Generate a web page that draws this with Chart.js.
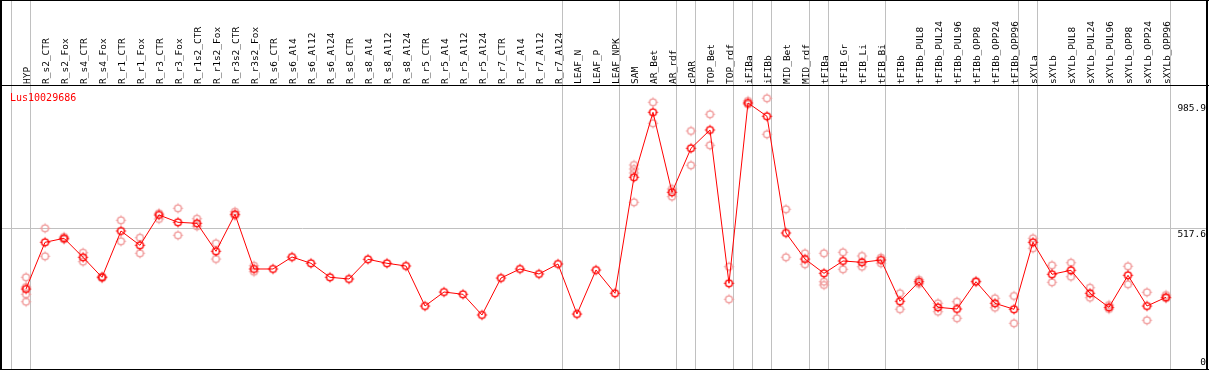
<!DOCTYPE html>
<html>
<head>
<meta charset="utf-8">
<script src="https://cdn.jsdelivr.net/npm/chart.js@4.4.1/dist/chart.umd.min.js"></script>
<style>
  html, body { margin: 0; padding: 0; background: #fff; }
  #wrap { width: 1209px; height: 370px; }
</style>
</head>
<body>
<div id="wrap"><canvas id="chart" width="1209" height="370"></canvas></div>
<script>
const geneId = "Lus10029686";

const categories = [
  "HYP", "R_s2_CTR", "R_s2_Fox", "R_s4_CTR", "R_s4_Fox", "R_r1_CTR", "R_r1_Fox",
  "R_r3_CTR", "R_r3_Fox", "R_r1s2_CTR", "R_r1s2_Fox", "R_r3s2_CTR", "R_r3s2_Fox",
  "R_s6_CTR", "R_s6_Al4", "R_s6_Al12", "R_s6_Al24", "R_s8_CTR", "R_s8_Al4",
  "R_s8_Al12", "R_s8_Al24", "R_r5_CTR", "R_r5_Al4", "R_r5_Al12", "R_r5_Al24",
  "R_r7_CTR", "R_r7_Al4", "R_r7_Al12", "R_r7_Al24", "LEAF_N", "LEAF_P", "LEAF_NPK",
  "SAM", "AR_Bet", "AR_rdf", "cPAR", "TOP_Bet", "TOP_rdf", "iFIBa", "iFIBb",
  "MID_Bet", "MID_rdf", "tFIBa", "tFIB_Gr", "tFIB_Li", "tFIB_Bi", "tFIBb",
  "tFIBb_PUL8", "tFIBb_PUL24", "tFIBb_PUL96", "tFIBb_OPP8", "tFIBb_OPP24", "tFIBb_OPP96",
  "sXYLa", "sXYLb", "sXYLb_PUL8", "sXYLb_PUL24", "sXYLb_PUL96", "sXYLb_OPP8",
  "sXYLb_OPP24", "sXYLb_OPP96"
];

const meanValues = [
  290.7, 465.2, 480.2, 409.2, 334.5, 507.5, 454.0, 567.3, 540.0, 536.2, 431.6, 569.9, 365.5,
  365.5, 410.3, 386.8, 334.5, 328.1, 401.7, 386.8, 376.7, 227.2, 279.5, 270.9, 193.6,
  331.8, 365.5, 346.8, 384.2, 197.3, 361.7, 274.7,
  708.2, 951.0, 652.1, 816.5, 884.9, 312.0, 985.9, 936.1, 500.0, 402.8,
  349.4, 395.4, 390.5, 399.1, 244.8, 318.0, 222.3, 216.0, 318.0, 237.3, 214.9,
  465.2, 345.7, 360.6, 274.7, 222.3, 341.9, 227.2, 259.7
];

// individual replicates, one list per category (empty where only the mean is shown)
const replicateValues = [
  [334.5, 298.2, 270.9, 243.3], [517.6, 412.9], [485.1, 475.7], [426.4, 392.8], [337.4, 331.8],
  [547.5, 469.0], [482.4, 424.1], [573.6, 552.3], [592.3, 491.4], [553.4, 525.0],
  [461.5, 402.8], [579.6, 564.6], [377.8, 355.4],
  [], [], [], [], [], [], [], [], [], [], [], [], [], [], [], [], [], [], [],
  [754.1, 739.2, 724.2, 614.7], [988.4, 909.9], [664.4, 635.7], [881.2, 753.0],
  [943.6, 827.7], [374.1, 252.2], [993.3, 981.0], [1003.4, 868.8], [588.6, 409.2],
  [424.1, 383.0], [424.1, 318.0, 305.7], [427.9, 364.3], [414.1, 374.1], [407.7, 386.8],
  [274.7, 215.2], [325.1, 310.2], [237.3, 205.9], [243.3, 181.2], [320.6],
  [256.0, 220.9], [264.6, 162.6], [480.2, 442.8], [379.3, 315.8], [389.0, 336.7],
  [295.6, 258.2], [230.9, 216.0], [375.6, 308.3], [278.4, 173.8], [268.3, 256.0]
];

const yTickValues = [0, 517.6, 985.9];
const yTickLabels = ["0", "517.6", "985.9"];

// categories after which a vertical separator is drawn
const groupBreaks = [-1, 0, 28, 31, 34, 35, 37, 38, 39, 41, 42, 45, 52, 53, 60];

const MONO = "'DejaVu Sans Mono', monospace";

function makeMarker(color) {
  const c = document.createElement("canvas");
  c.width = 13;
  c.height = 13;
  const g = c.getContext("2d");
  g.strokeStyle = color;
  g.lineWidth = 1.4;
  g.beginPath();
  g.arc(6.5, 6.5, 3.4, 0, Math.PI * 2);
  g.stroke();
  g.lineWidth = 1;
  g.beginPath();
  g.moveTo(6.5, 1.5); g.lineTo(6.5, 3.5);
  g.moveTo(6.5, 9.5); g.lineTo(6.5, 11.5);
  g.moveTo(1.5, 6.5); g.lineTo(3.5, 6.5);
  g.moveTo(9.5, 6.5); g.lineTo(11.5, 6.5);
  g.stroke();
  return c;
}

const meanMarker = makeMarker("#ff0000");
const repMarker = makeMarker("#f09a9a");

const meanPoints = meanValues.map((v, i) => ({ x: i, y: v }));
const repPoints = [];
replicateValues.forEach((reps, i) => reps.forEach((v) => repPoints.push({ x: i, y: v })));

const framePlugin = {
  id: "frame",
  beforeDraw(chart) {
    const { ctx } = chart;
    const xs = chart.scales.x;
    ctx.save();
    ctx.strokeStyle = "#c0c0c0";
    ctx.lineWidth = 1;
    groupBreaks.forEach((i) => {
      const px = Math.round(xs.getPixelForValue(i) + 4) + 0.5;
      ctx.beginPath();
      ctx.moveTo(px, 0);
      ctx.lineTo(px, 369);
      ctx.stroke();
    });
    ctx.restore();
  },
  afterDraw(chart) {
    const { ctx, chartArea } = chart;
    const ys = chart.scales.y;
    ctx.save();
    ctx.fillStyle = "#000";
    ctx.fillRect(0, 0, 1209, 1);
    ctx.fillRect(0, 0, 2, 370);
    ctx.fillRect(1206, 0, 2, 370);
    ctx.fillRect(0, 369, 1209, 1);
    ctx.fillRect(0, Math.round(chartArea.top), 1209, 1);

    ctx.font = "9.5px " + MONO;
    ctx.textAlign = "right";
    yTickValues.forEach((v, k) => {
      const py = ys.getPixelForValue(v);
      if (v === 0) {
        ctx.textBaseline = "bottom";
        ctx.fillText(yTickLabels[k], 1206, py);
      } else {
        ctx.textBaseline = "top";
        ctx.fillText(yTickLabels[k], 1206, py + 1);
      }
    });

    ctx.fillStyle = "#ff0000";
    ctx.font = "10px " + MONO;
    ctx.textAlign = "left";
    ctx.textBaseline = "top";
    ctx.fillText(geneId, 10, chartArea.top + 8);
    ctx.restore();
  },
};

new Chart(document.getElementById("chart"), {
  data: {
    datasets: [
      {
        type: "line",
        data: meanPoints,
        borderColor: "#ff0000",
        borderWidth: 1,
        tension: 0,
        pointStyle: meanMarker,
        pointRadius: 4,
      },
      {
        type: "scatter",
        data: repPoints,
        showLine: false,
        pointStyle: repMarker,
        pointRadius: 4,
      },
    ],
  },
  options: {
    responsive: false,
    animation: false,
    events: [],
    layout: { autoPadding: false, padding: { left: 1, right: 2, top: 0, bottom: 1 } },
    plugins: { legend: { display: false }, tooltip: { enabled: false } },
    scales: {
      x: {
        type: "linear",
        position: "top",
        min: -1.3158,
        max: 62.158,
        grid: { display: false },
        border: { display: false },
        afterBuildTicks(scale) {
          scale.ticks = categories.map((_, i) => ({ value: i }));
        },
        afterFit(scale) {
          scale.height = 85;
          scale.paddingLeft = 0;
          scale.paddingRight = 0;
        },
        ticks: {
          autoSkip: false,
          minRotation: 90,
          maxRotation: 90,
          padding: -7,
          labelOffset: 13,
          color: "#000",
          font: { family: MONO, size: 9.5 },
          callback: (value) => categories[value] ?? "",
        },
      },
      y: {
        type: "linear",
        position: "right",
        min: -8.2,
        max: 1053,
        border: { display: false },
        afterBuildTicks(scale) {
          scale.ticks = yTickValues.map((v) => ({ value: v }));
        },
        afterFit(scale) {
          scale.width = 0;
          scale.paddingTop = 0;
          scale.paddingBottom = 0;
        },
        ticks: { display: false },
        grid: {
          drawTicks: false,
          color: (ctx) => (ctx.tick && ctx.tick.value === 517.6 ? "#c0c0c0" : "rgba(0,0,0,0)"),
        },
      },
    },
  },
  plugins: [framePlugin],
});
</script>
</body>
</html>
